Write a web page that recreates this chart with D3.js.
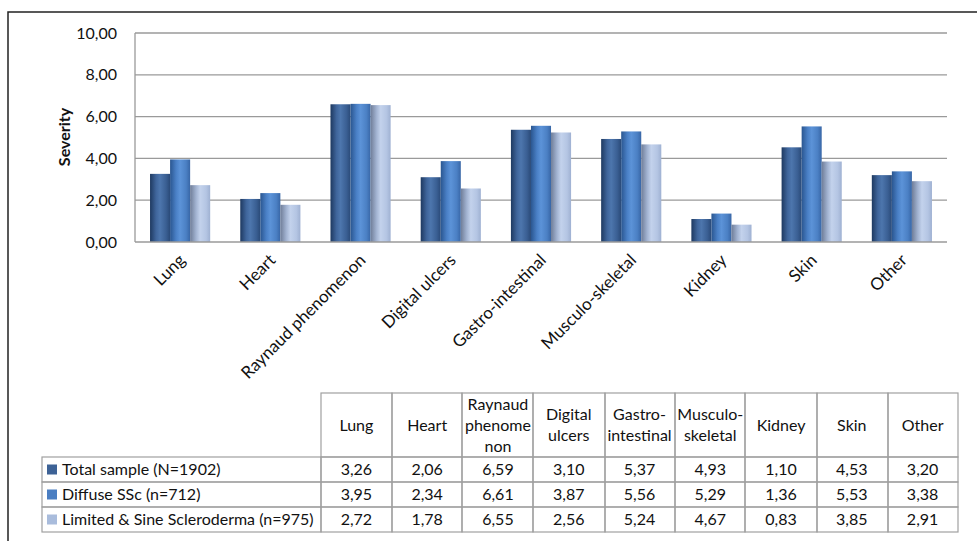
<!DOCTYPE html>
<html><head><meta charset="utf-8">
<script src="https://cdn.jsdelivr.net/npm/d3@7"></script>
<style>
body{margin:0;background:#fff;}
svg{display:block;font-family:Lato,"Open Sans",sans-serif;}
</style></head>
<body><svg id="c" width="977" height="541"></svg>
<script>
const categories = ["Lung","Heart","Raynaud phenomenon","Digital ulcers","Gastro-intestinal","Musculo-skeletal","Kidney","Skin","Other"];
const headerLines = [["Lung"],["Heart"],["Raynaud","phenome","non"],["Digital","ulcers"],["Gastro-","intestinal"],["Musculo-","skeletal"],["Kidney"],["Skin"],["Other"]];
const seriesNames = ["Total sample (N=1902)","Diffuse SSc (n=712)","Limited & Sine Scleroderma (n=975)"];
const totalSample = [3.26,2.06,6.59,3.10,5.37,4.93,1.10,4.53,3.20];
const diffuseSSc = [3.95,2.34,6.61,3.87,5.56,5.29,1.36,5.53,3.38];
const limitedSine = [2.72,1.78,6.55,2.56,5.24,4.67,0.83,3.85,2.91];
const yTicks = [0,2,4,6,8,10];

const seriesValues = [totalSample, diffuseSSc, limitedSine];
const baseColors = ["#3d6296","#4a7ec2","#a9bcdc"];
const grads = [
  ["#1e3960","#3f659b","#4d76ad","#3a5f93","#2a4a78"],
  ["#2a5690","#4a80c6","#5c93d8","#4b80c4","#3866a6"],
  ["#6f7d98","#a3b4d2","#c3d2ec","#b4c5e3","#9fb1d2"]
];

const loc = d3.formatLocale({decimal:",",thousands:".",grouping:[3],currency:["",""]});
const fmt = loc.format(".2f");

const svg = d3.select("#c");
const defs = svg.append("defs");
grads.forEach((g,i)=>{
  const lg = defs.append("linearGradient").attr("id","g"+i).attr("x1","0").attr("x2","1").attr("y1","0").attr("y2","0");
  [0,0.3,0.5,0.8,1].forEach((o,j)=>lg.append("stop").attr("offset",o).attr("stop-color",g[j]));
});

// outer frame
svg.append("path").attr("d","M8,541V12H977").attr("fill","none").attr("stroke","#222").attr("stroke-width",1.5);

const pL=135, pR=947, pT=33, pB=242;
const x = d3.scaleBand().domain(categories).range([pL,pR]).paddingInner(1/3).paddingOuter(1/6);
const xs = d3.scaleBand().domain(d3.range(3)).range([0,x.bandwidth()]);
const y = d3.scaleLinear().domain([0,10]).range([pB,pT]);

// gridlines
svg.append("g").selectAll("line").data(yTicks.filter(t=>t>0)).join("line")
  .attr("x1",pL).attr("x2",pR).attr("y1",d=>y(d)).attr("y2",d=>y(d))
  .attr("stroke","#9a9a9a").attr("stroke-width",1.3);

// bars
categories.forEach((c,ci)=>{
  seriesValues.forEach((vals,si)=>{
    svg.append("rect")
      .attr("x",x(c)+xs(si)).attr("width",xs.bandwidth())
      .attr("y",y(vals[ci])).attr("height",y(0)-y(vals[ci]))
      .attr("fill","url(#g"+si+")");
  });
});

// axes lines
svg.append("line").attr("x1",pL).attr("x2",pL).attr("y1",pT).attr("y2",pB).attr("stroke","#9a9a9a").attr("stroke-width",1.3);
svg.append("line").attr("x1",pL).attr("x2",pR).attr("y1",pB).attr("y2",pB).attr("stroke","#9a9a9a").attr("stroke-width",1.3);

// y labels
const yAxis = d3.axisLeft(y).tickValues(yTicks).tickFormat(fmt).tickSize(0).tickPadding(18);
const ya = svg.append("g").attr("transform",`translate(${pL},0)`).call(yAxis);
ya.select(".domain").remove();
ya.selectAll("text").attr("font-size",16).attr("fill","#111").attr("font-family","Lato");

svg.append("text").attr("transform","translate(70,137) rotate(-90)").attr("text-anchor","middle")
  .attr("font-size",16).attr("font-weight","bold").attr("fill","#111").text("Severity");

// x labels
svg.append("g").selectAll("text").data(categories).join("text")
  .attr("transform",d=>`translate(${x(d)+x.bandwidth()/2+2},257) rotate(-45)`)
  .attr("text-anchor","end").attr("font-size",17).attr("fill","#111").attr("dy","0.35em").text(d=>d);

// table
const colEdges = [321,392,462,533,605,675,745,817,888,958];
const tTop=393, hBot=457, rowH=25, legLeft=42;
const tcol = d3.scaleBand().domain(categories).range([321,958]);
const tg = svg.append("g");
const lc = "#a0a0a0";
categories.forEach((c,i)=>{
  tg.append("rect").attr("x",colEdges[i]).attr("y",tTop).attr("width",colEdges[i+1]-colEdges[i]).attr("height",hBot-tTop)
    .attr("fill","none").attr("stroke",lc).attr("stroke-width",1.2);
  const lines = headerLines[i];
  const cx = tcol(c)+tcol.bandwidth()/2, cy=(tTop+hBot)/2;
  lines.forEach((l,k)=>{
    tg.append("text").attr("x",cx).attr("y",cy+(k-(lines.length-1)/2)*21).attr("dy","0.35em")
      .attr("text-anchor","middle").attr("font-size",16).attr("fill","#111").text(l);
  });
});
seriesNames.forEach((s,si)=>{
  const ry = hBot+si*rowH;
  tg.append("rect").attr("x",legLeft).attr("y",ry).attr("width",321-legLeft).attr("height",rowH)
    .attr("fill","none").attr("stroke",lc).attr("stroke-width",1.2);
  tg.append("rect").attr("x",47).attr("y",ry+7.5).attr("width",10).attr("height",10).attr("fill",baseColors[si]);
  tg.append("text").attr("x",62).attr("y",ry+rowH/2).attr("dy","0.35em").attr("font-size",16).attr("fill","#111").text(s);
  categories.forEach((c,i)=>{
    tg.append("rect").attr("x",colEdges[i]).attr("y",ry).attr("width",colEdges[i+1]-colEdges[i]).attr("height",rowH)
      .attr("fill","none").attr("stroke",lc).attr("stroke-width",1.2);
    tg.append("text").attr("x",tcol(c)+tcol.bandwidth()/2).attr("y",ry+rowH/2).attr("dy","0.35em")
      .attr("text-anchor","middle").attr("font-size",16).attr("fill","#111").text(fmt(seriesValues[si][i]));
  });
});
</script></body></html>
